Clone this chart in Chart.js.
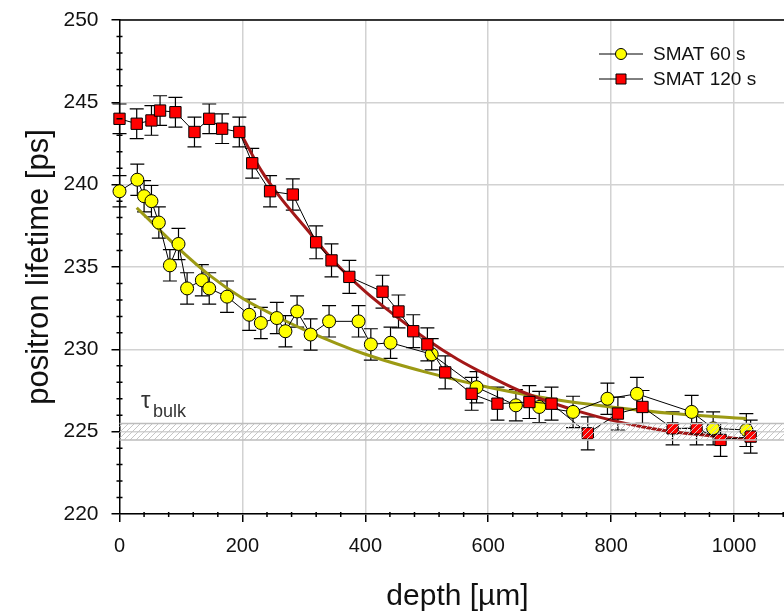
<!DOCTYPE html>
<html>
<head>
<meta charset="utf-8">
<script src="https://cdn.jsdelivr.net/npm/chart.js@4.4.1/dist/chart.umd.min.js"></script>
<style>
  html, body { margin: 0; padding: 0; background: #fff; overflow: hidden; }
  #wrap { position: relative; width: 820px; height: 614px; }
</style>
</head>
<body>
<div id="wrap"><canvas id="lifetime"></canvas></div>
<script>
// depth [µm] / positron lifetime [ps]
const depth60 = [0, 29, 40, 52, 64, 82, 96, 110, 134, 146, 175, 211, 230, 256, 270, 289, 311, 341, 389, 409, 441, 508, 581, 645, 683, 738, 794, 842, 931, 966, 1020];
const tau60 = [239.6, 240.3, 239.3, 239.0, 237.7, 235.1, 236.4, 233.7, 234.2, 233.7, 233.2, 232.1, 231.6, 231.9, 231.1, 232.3, 230.9, 231.7, 231.7, 230.3, 230.4, 229.7, 227.7, 226.6, 226.5, 226.2, 227.0, 227.3, 226.2, 225.2, 225.1];
const err60 = [0.95, 0.95, 0.95, 0.95, 0.95, 0.95, 0.95, 0.95, 0.95, 0.95, 0.95, 0.95, 0.95, 0.95, 0.95, 0.95, 0.95, 0.95, 0.95, 0.95, 0.95, 0.95, 0.95, 0.95, 0.95, 0.95, 0.95, 1.0, 1.0, 1.0, 1.0];

const depth120 = [0, 28, 52, 66, 91, 122, 146, 167, 195, 216, 245, 282, 320, 345, 374, 428, 454, 478, 501, 530, 573, 615, 667, 703, 762, 811, 851, 900, 939, 978, 1027];
const tau120 = [244.0, 243.7, 243.9, 244.5, 244.4, 243.2, 244.0, 243.4, 243.2, 241.3, 239.6, 239.4, 236.5, 235.4, 234.4, 233.5, 232.3, 231.1, 230.3, 228.6, 227.3, 226.7, 226.8, 226.7, 224.9, 226.1, 226.5, 225.2, 225.2, 224.5, 224.7];
const err120 = [0.9, 0.9, 0.9, 0.9, 0.9, 0.9, 0.9, 0.9, 0.9, 0.9, 0.95, 0.95, 1.0, 1.0, 1.0, 1.0, 1.0, 1.0, 1.0, 1.0, 1.0, 1.0, 1.0, 1.0, 1.0, 1.0, 1.0, 1.0, 1.0, 1.0, 1.0];

// fitted profiles
const fitDepth60 = [28, 50, 100, 150, 200, 250, 300, 400, 500, 600, 700, 800, 900, 1020];
const fitTau60 = [238.6, 237.8, 236.0, 234.4, 233.1, 232.1, 231.2, 229.7, 228.6, 227.7, 227.0, 226.5, 226.1, 225.8];
const fitDepth120 = [196, 230, 260, 300, 350, 400, 450, 500, 550, 600, 650, 700, 750, 800, 850, 900, 950, 1026];
const fitTau120 = [243.2, 240.9, 239.3, 237.5, 235.3, 233.5, 232.0, 230.6, 229.4, 228.4, 227.5, 226.8, 226.2, 225.7, 225.3, 225.0, 224.8, 224.5];

// bulk lifetime band
const bulkLow = 224.5;
const bulkHigh = 225.5;

const yTicks = [220, 225, 230, 235, 240, 245, 250];
const xTicks = [0, 200, 400, 600, 800, 1000];
const xMax = 1100;

const FONT = "'Liberation Sans', Arial, sans-serif";

function pairs(xs, ys) {
    return xs.map((x, i) => ({ x: x, y: ys[i] }));
}

const errorBars = {
    id: 'errorBars',
    beforeDatasetsDraw(chart) {
        const { ctx, scales: { x, y } } = chart;
        ctx.save();
        ctx.strokeStyle = '#000';
        ctx.lineWidth = 1.2;
        chart.data.datasets.forEach(ds => {
            if (!ds.errors) return;
            ds.data.forEach((p, i) => {
                const px = x.getPixelForValue(p.x);
                const top = y.getPixelForValue(p.y + ds.errors[i]);
                const bot = y.getPixelForValue(p.y - ds.errors[i]);
                ctx.beginPath();
                ctx.moveTo(px, top); ctx.lineTo(px, bot);
                ctx.moveTo(px - 7, top); ctx.lineTo(px + 7, top);
                ctx.moveTo(px - 7, bot); ctx.lineTo(px + 7, bot);
                ctx.stroke();
            });
        });
        ctx.restore();
    }
};

function hatch() {
    const c = document.createElement('canvas');
    c.width = 6; c.height = 6;
    const g = c.getContext('2d');
    g.strokeStyle = '#c6c6c6';
    g.lineWidth = 1;
    g.beginPath();
    g.moveTo(0, 6); g.lineTo(6, 0);
    g.moveTo(-1, 1); g.lineTo(1, -1);
    g.moveTo(5, 7); g.lineTo(7, 5);
    g.stroke();
    return c;
}

const bulkBand = {
    id: 'bulkBand',
    afterDatasetsDraw(chart) {
        const { ctx, chartArea: a, scales: { y } } = chart;
        const top = y.getPixelForValue(bulkHigh);
        const bot = y.getPixelForValue(bulkLow);
        ctx.save();
        ctx.fillStyle = ctx.createPattern(hatch(), 'repeat');
        ctx.fillRect(a.left, top, a.right - a.left, bot - top);
        ctx.strokeStyle = '#bdbdbd';
        ctx.lineWidth = 1.5;
        ctx.beginPath();
        ctx.moveTo(a.left, top); ctx.lineTo(a.right, top);
        ctx.moveTo(a.left, bot); ctx.lineTo(a.right, bot);
        ctx.stroke();
        // label
        ctx.fillStyle = '#333';
        ctx.textBaseline = 'alphabetic';
        ctx.font = '24px ' + FONT;
        ctx.fillText('τ', 141, 408);
        ctx.font = '18px ' + FONT;
        ctx.fillText('bulk', 153, 417);
        ctx.restore();
    }
};

const frame = {
    id: 'frame',
    afterDraw(chart) {
        const { ctx, chartArea: a, scales: { x, y } } = chart;
        ctx.save();
        ctx.strokeStyle = '#000';
        ctx.lineWidth = 1.5;
        ctx.beginPath();
        ctx.moveTo(a.left, a.top); ctx.lineTo(a.right, a.top);
        // minor ticks
        for (let v = 221; v < 250; v++) {
            if (v % 5 === 0) continue;
            const py = y.getPixelForValue(v);
            ctx.moveTo(a.left - 3, py); ctx.lineTo(a.left + 3, py);
        }
        for (let d = 40; d < xMax; d += 40) {
            if (d % 200 === 0) continue;
            const px = x.getPixelForValue(d);
            ctx.moveTo(px, a.bottom - 2); ctx.lineTo(px, a.bottom + 3);
        }
        ctx.stroke();

        // legend
        const rows = [
            { label: 'SMAT 60 s', y: 54, shape: 'circle', fill: '#ffff00' },
            { label: 'SMAT 120 s', y: 79, shape: 'rect', fill: '#ff0000' }
        ];
        ctx.font = '19px ' + FONT;
        ctx.textBaseline = 'middle';
        rows.forEach(r => {
            ctx.strokeStyle = '#000';
            ctx.lineWidth = 1;
            ctx.beginPath();
            ctx.moveTo(599, r.y); ctx.lineTo(643, r.y);
            ctx.stroke();
            ctx.fillStyle = r.fill;
            ctx.beginPath();
            if (r.shape === 'circle') ctx.arc(621, r.y, 5.5, 0, Math.PI * 2);
            else ctx.rect(616, r.y - 5, 10, 10);
            ctx.fill();
            ctx.stroke();
            ctx.fillStyle = '#111';
            ctx.fillText(r.label, 653, r.y + 1);
        });
        ctx.restore();
    }
};

const chart = new Chart(document.getElementById('lifetime').getContext('2d'), {
    type: 'scatter',
    data: {
        datasets: [
            {
                label: 'SMAT 120 s',
                data: pairs(depth120, tau120),
                errors: err120,
                showLine: true,
                borderColor: '#000',
                borderWidth: 1,
                pointStyle: 'rect',
                pointRadius: 8,
                pointBackgroundColor: '#ff0000',
                pointBorderColor: '#000',
                pointBorderWidth: 1,
                clip: false
            },
            {
                label: 'SMAT 60 s',
                data: pairs(depth60, tau60),
                errors: err60,
                showLine: true,
                borderColor: '#000',
                borderWidth: 1,
                pointStyle: 'circle',
                pointRadius: 6.5,
                pointBackgroundColor: '#ffff00',
                pointBorderColor: '#000',
                pointBorderWidth: 1,
                clip: false
            },
            {
                label: 'fit 120 s',
                data: pairs(fitDepth120, fitTau120),
                showLine: true,
                borderColor: '#a31818',
                borderWidth: 3,
                pointRadius: 0,
                cubicInterpolationMode: 'monotone'
            },
            {
                label: 'fit 60 s',
                data: pairs(fitDepth60, fitTau60),
                showLine: true,
                borderColor: '#9c9a14',
                borderWidth: 3,
                pointRadius: 0,
                cubicInterpolationMode: 'monotone'
            }
        ]
    },
    options: {
        animation: false,
        responsive: true,
        maintainAspectRatio: false,
        layout: { padding: { top: 20, right: 24.5, left: 0, bottom: 0 } },
        plugins: {
            legend: { display: false },
            tooltip: { enabled: false }
        },
        scales: {
            x: {
                type: 'linear',
                min: 0,
                max: xMax,
                afterBuildTicks: s => { s.ticks = xTicks.map(v => ({ value: v })); },
                afterFit: s => { s.height = 100; },
                ticks: {
                    color: '#111',
                    font: { family: FONT, size: 20 },
                    padding: 12,
                    maxRotation: 0,
                    callback: v => String(v)
                },
                grid: {
                    color: c => c.tick && c.tick.value === 0 ? 'rgba(0,0,0,0)' : '#d2d2d2',
                    lineWidth: 1.5,
                    tickColor: '#000',
                    tickLength: 8
                },
                border: { color: '#000', width: 1.5 },
                title: {
                    display: true,
                    text: 'depth [µm]',
                    color: '#111',
                    font: { family: FONT, size: 30, lineHeight: 1 },
                    padding: { top: 0, bottom: 2 }
                }
            },
            y: {
                type: 'linear',
                min: yTicks[0],
                max: yTicks[yTicks.length - 1],
                afterBuildTicks: s => { s.ticks = yTicks.map(v => ({ value: v })); },
                afterFit: s => {
                    s.width = 119.5;
                    s.paddingTop = 12;
                    s.paddingBottom = 12;
                },
                ticks: {
                    color: '#111',
                    font: { family: FONT, size: 21 },
                    padding: 13,
                    callback: v => String(v)
                },
                grid: {
                    color: '#d2d2d2',
                    lineWidth: 1.5,
                    tickColor: '#000',
                    tickLength: 8
                },
                border: { color: '#000', width: 1.5 },
                title: {
                    display: true,
                    text: 'positron lifetime [ps]',
                    color: '#111',
                    font: { family: FONT, size: 31, lineHeight: 1 },
                    padding: { top: 24, bottom: 0 }
                }
            }
        }
    },
    plugins: [errorBars, bulkBand, frame]
});
</script>
</body>
</html>
